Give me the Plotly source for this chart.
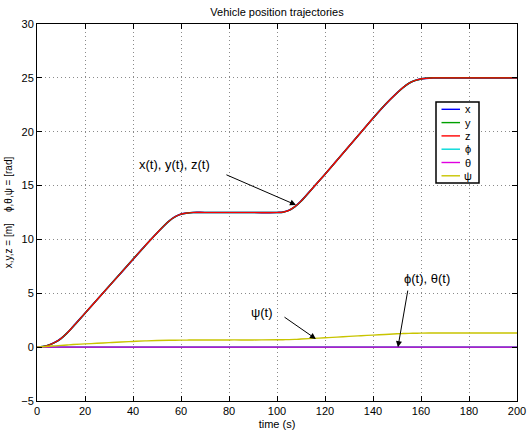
import plotly.graph_objects as go

# Time samples (s)
time_s = [0, 2.5, 5, 7.5, 10, 12.5, 15, 20, 25, 30, 35, 40, 45, 50, 55, 57.5,
          60, 62.5, 65, 70, 80, 90, 100, 102.5, 105, 107.5, 110, 115, 120,
          125, 130, 135, 140, 145, 150, 152.5, 155, 157.5, 160, 165, 170, 180,
          190, 200]

# Position components (m)
x_pos = [0, 0.05, 0.2, 0.45, 0.8, 1.3, 1.9, 3.15, 4.4, 5.65, 6.9, 8.15, 9.4,
         10.6, 11.7, 12.1, 12.35, 12.45, 12.5, 12.5, 12.5, 12.5, 12.5, 12.53,
         12.7, 13.05, 13.55, 14.8, 16.05, 17.35, 18.65, 19.95, 21.25, 22.5,
         23.6, 24.1, 24.5, 24.75, 24.9, 25.0, 25.0, 25.0, 25.0, 25.0]
y_pos = list(x_pos)
z_pos = list(x_pos)

# Attitude angles (rad)
phi = [0.0] * len(time_s)
theta = [0.0] * len(time_s)
psi = [0, 0.04, 0.08, 0.12, 0.16, 0.2, 0.24, 0.3, 0.36, 0.42, 0.48, 0.53,
       0.58, 0.62, 0.64, 0.645, 0.65, 0.655, 0.66, 0.66, 0.67, 0.67, 0.68,
       0.69, 0.7, 0.72, 0.75, 0.81, 0.87, 0.93, 1.0, 1.06, 1.12, 1.18, 1.24,
       1.26, 1.28, 1.29, 1.3, 1.31, 1.31, 1.31, 1.31, 1.31]

names = ["x", "y", "z", "\u03d5", "\u03b8", "\u03c8"]
colors = ["#0000ff", "#00a000", "#ff0000", "#00d8d8", "#e000e0", "#c8c400"]
trace_colors = ["#0000ff", "#008800", "#ff0000", "#00d8d8",
                "rgba(200,0,200,0.85)", "#c8c400"]
widths = [1.7, 1.5, 1.2, 1.8, 1.6, 1.4]
series = [x_pos, y_pos, z_pos, phi, theta, psi]

FONT = "Liberation Sans, Arial, Helvetica, sans-serif"
W, H = 530, 437
ML, MR, MT, MB = 37, 13, 24, 36
PW, PH = W - ML - MR, H - MT - MB

fig = go.Figure()
for i in range(len(series)):
    fig.add_trace(go.Scatter(
        x=time_s, y=series[i], name=names[i], mode="lines",
        line=dict(color=trace_colors[i], width=widths[i], shape="spline", smoothing=1.0),
        showlegend=False,
    ))


def px(xp):
    return (xp - ML) / PW


def py(yp):
    return 1 - (yp - MT) / PH


shapes = []
annotations = []

# Legend box with line samples
shapes.append(dict(type="rect", xref="paper", yref="paper",
                   x0=px(436), x1=px(479), y0=py(183), y1=py(102),
                   line=dict(color="black", width=1.5), fillcolor="white", layer="above"))
row_y = [109.3, 122.6, 135.9, 149.2, 162.5, 175.8]
for i, ry in enumerate(row_y):
    shapes.append(dict(type="line", xref="paper", yref="paper",
                       x0=px(441.5), x1=px(460), y0=py(ry), y1=py(ry),
                       line=dict(color=colors[i], width=1.4), layer="above"))
    annotations.append(dict(text=names[i], xref="paper", yref="paper",
                            x=px(468), y=py(ry), showarrow=False,
                            xanchor="center", yanchor="middle",
                            font=dict(family=FONT, size=11, color="black")))

# Labels and pointers on the curves
labels = [
    ("x(t), y(t), z(t)", 41.7, 17.0, "left"),
    ("\u03c8(t)", 93.7, 3.25, "center"),
    ("\u03d5(t), \u03b8(t)", 162.5, 6.4, "center"),
]
for txt, lx, ly, anc in labels:
    annotations.append(dict(text=txt, x=lx, y=ly, xref="x", yref="y",
                            showarrow=False, xanchor=anc, yanchor="middle",
                            font=dict(family=FONT, size=13, color="black")))

pointers = [
    (78.3, 16.06, 107.9, 13.2),
    (102.5, 2.88, 116.2, 0.76),
    (154.6, 5.39, 150.4, 0.0),
]
for tx, ty, hx, hy in pointers:
    annotations.append(dict(text="", x=hx, y=hy, ax=tx, ay=ty,
                            xref="x", yref="y", axref="x", ayref="y",
                            showarrow=True, arrowhead=2, arrowsize=1.2,
                            arrowwidth=1, arrowcolor="black", standoff=0))

axis_common = dict(
    showline=True, linecolor="black", linewidth=1, mirror="ticks",
    ticks="inside", ticklen=5, tickcolor="black", tickwidth=1,
    showgrid=True, gridcolor="#8a8a8a", griddash="1px,3px", gridwidth=1,
    zeroline=False, automargin=False,
    tickfont=dict(family=FONT, size=11, color="black"),
)

fig.update_layout(
    width=W, height=H,
    margin=dict(l=ML, r=MR, t=MT, b=MB, autoexpand=False),
    paper_bgcolor="white", plot_bgcolor="white",
    title=dict(text="Vehicle position trajectories", x=(ML + PW / 2) / W,
               xanchor="center", y=1 - 12 / H, yanchor="middle",
               font=dict(family=FONT, size=11, color="black")),
    xaxis=dict(range=[0, 200], tickvals=list(range(0, 201, 20)),
               title=dict(text="time (s)", standoff=4,
                          font=dict(family=FONT, size=11, color="black")),
               **axis_common),
    yaxis=dict(range=[-5, 30], tickvals=list(range(-5, 31, 5)),
               ticktext=["\u22125"] + [str(v) for v in range(0, 31, 5)],
               title=dict(text="x,y,z = [m]    \u03d5,\u03b8,\u03c8 = [rad]", standoff=6,
                          font=dict(family=FONT, size=10, color="black")),
               **axis_common),
    shapes=shapes,
    annotations=annotations,
    showlegend=False,
)

fig.write_html("out.html")
